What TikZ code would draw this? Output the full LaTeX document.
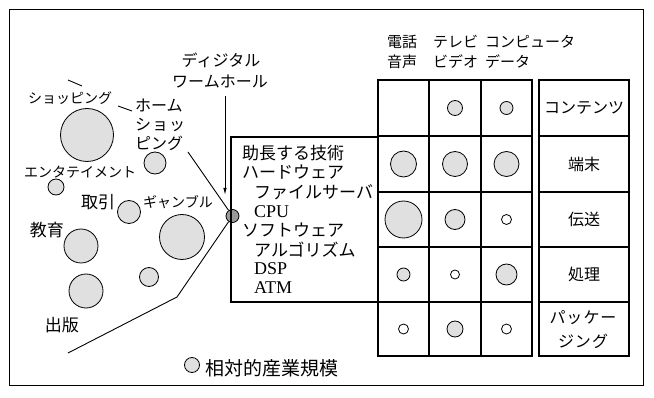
\documentclass[tikz,border=0pt]{standalone}
\usepackage{fontspec}
\setmainfont{Liberation Serif}
\newfontfamily\jp{Noto Sans CJK JP}
\usetikzlibrary{arrows.meta}
\begin{document}
\begin{tikzpicture}[x=1pt,y=-1pt,
  lbl/.style={inner sep=0pt, font=\jp\fontsize{14}{16}\selectfont},
  kl/.style={inner sep=0pt, font=\jp\fontsize{17}{19}\selectfont},
  tech/.style={inner sep=0pt, anchor=west, font=\jp\fontsize{17}{19}\selectfont},
  techl/.style={inner sep=0pt, anchor=west, font=\fontsize{18}{19}\selectfont},
  hdr/.style={inner sep=0pt, anchor=west, font=\jp\fontsize{15}{17}\selectfont},
  cat/.style={inner sep=0pt, font=\jp\fontsize{16}{18}\selectfont},
  bub/.style={circle, draw, line width=0.8pt, fill=black!12, inner sep=0pt, minimum size=#1},
  frame/.style={line width=1pt},
  gridline/.style={line width=1.4pt},
  conn/.style={line width=0.9pt}
]
\useasboundingbox (0,0) rectangle (654,398);
% outer frame
\draw[frame] (9,10) rectangle (643,386);

% left bubbles
\node[bub=53] (cshop) at (87,135) {};
\node[bub=22] (chome) at (155,163) {};
\node[bub=16] (cent) at (56,187) {};
\node[bub=23] (ctrade) at (129,212) {};
\node[bub=34] (cedu) at (81,246) {};
\node[bub=45] (cgam) at (182,237) {};
\node[bub=19] (csm) at (149,277) {};
\node[bub=34] (cpub) at (86,291) {};
\node[bub=15] (cleg) at (192,365) {};
\node[circle, draw, line width=0.8pt, fill=black!40, inner sep=0pt, minimum size=13pt] (wh) at (232.5,216) {};

% left labels
\node[lbl] (lshop) at (70,98) {ショッピング};
\node[lbl, font=\jp\fontsize{16}{18}\selectfont, anchor=west] (lhome1) at (135,106) {ホーム};
\node[lbl, font=\jp\fontsize{16}{18}\selectfont, anchor=west] (lhome2) at (135,125) {シ\hspace{1pt}ョ\hspace{1pt}ッ};
\node[lbl, font=\jp\fontsize{16}{18}\selectfont, anchor=west] (lhome3) at (135,143) {ピング};
\node[lbl] (lent) at (80,172) {エンタテイメント};
\node[kl] (ltrade) at (98,202) {取引};
\node[lbl] (lgam) at (178,202) {ギャンブル};
\node[kl] (ledu) at (47,230) {教育};
\node[kl] (lpub) at (62,325) {出版};
\node[inner sep=0pt, anchor=west, font=\jp\fontsize{19}{21}\selectfont] (lleg) at (205,368) {相対的産業規模};

% small pointer ticks
\coordinate (tk1a) at (68,80);
\coordinate (tk1b) at (82,86);
\coordinate (tk2a) at (118,106);
\coordinate (tk2b) at (132,111);
\draw[conn] (tk1a) -- (tk1b);
\draw[conn] (tk2a) -- (tk2b);

% wormhole
\node[lbl, font=\jp\fontsize{16}{18}\selectfont] (dig) at (221,60) {ディジタル};
\node[lbl, font=\jp\fontsize{16}{18}\selectfont] (worm) at (220,82) {ワームホール};
\coordinate (arS) at (225,96);
\coordinate (arE) at (225,195);
\draw[conn, -{Latex[length=7pt,width=3.5pt]}] (arS) -- (arE);

\coordinate (upS) at (188,152);
\draw[conn] (upS) -- (wh);
\coordinate (lwB) at (177,297);
\coordinate (lwE) at (68,353);
\draw[conn] (wh) -- (lwB) -- (lwE);

% tech box
\draw[gridline] (378,137) -- (231,137) -- (231,302) -- (378,302);
\node[tech] (t1) at (242,153) {助長する技術};
\node[tech] (t2) at (242,172) {ハードウェア};
\node[tech] (t3) at (254,192) {ファイルサーバ};
\node[techl] (t4) at (254,212) {CPU};
\node[tech] (t5) at (242,230) {ソフトウェア};
\node[tech] (t6) at (254,250) {アルゴリズム};
\node[techl] (t7) at (254,269) {DSP};
\node[techl] (t8) at (254,288) {ATM};

% header
\node[hdr] (h1a) at (387,42) {電話};
\node[hdr] (h1b) at (387,62) {音声};
\node[hdr] (h2a) at (433,42) {テレビ};
\node[hdr] (h2b) at (433,62) {ビデオ};
\node[hdr] (h3a) at (485,42) {コンピュータ};
\node[hdr] (h3b) at (485,62) {データ};

% grid
\draw[gridline] (378,80) rectangle (532,356);
\foreach \xx in {429,481} \draw[gridline] (\xx,80) -- (\xx,356);
\foreach \yy in {136,192,247,302} \draw[gridline] (378,\yy) -- (532,\yy);
\draw[gridline] (539,80) rectangle (629,356);
\foreach \yy in {136,192,247,302} \draw[gridline] (539,\yy) -- (629,\yy);

% grid bubbles
\node[bub=15] (g12) at (455,108) {};
\node[bub=13] (g13) at (506.5,108) {};
\node[bub=26] (g21) at (403.5,164) {};
\node[bub=25] (g22) at (455,164) {};
\node[bub=25] (g23) at (506.5,164) {};
\node[bub=37] (g31) at (403.5,219.5) {};
\node[bub=20] (g32) at (455,219.5) {};
\node[bub=10, fill=white] (g33) at (506.5,219.5) {};
\node[bub=13] (g41) at (403.5,274.5) {};
\node[bub=9, fill=white] (g42) at (455,274.5) {};
\node[bub=21] (g43) at (506.5,274.5) {};
\node[bub=10, fill=white] (g51) at (403.5,329) {};
\node[bub=16] (g52) at (455,329) {};
\node[bub=10, fill=white] (g53) at (506.5,329) {};

% category labels
\node[cat] (k1) at (584,108) {コンテンツ};
\node[cat] (k2) at (584,164) {端末};
\node[cat] (k3) at (584,219.5) {伝送};
\node[cat] (k4) at (584,274.5) {処理};
\node[cat] (k5a) at (583,318) {パ\hspace{1pt}ッ\hspace{1pt}ケ\hspace{1pt}ー};
\node[cat] (k5b) at (583,341) {ジ\hspace{1pt}ン\hspace{1pt}グ};
\end{tikzpicture}
\end{document}
